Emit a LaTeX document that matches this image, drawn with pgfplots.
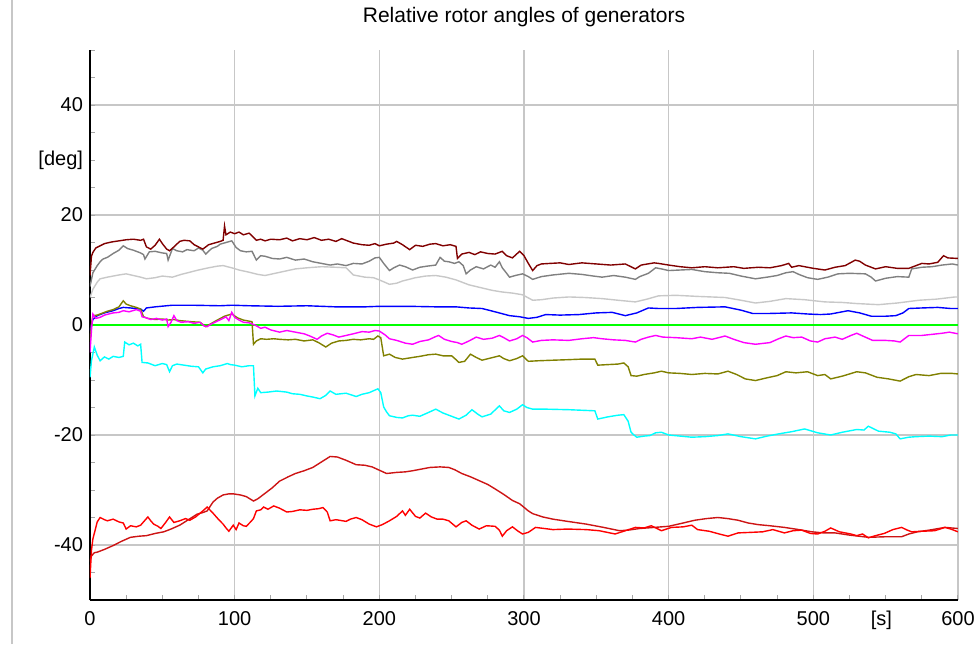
\documentclass[border=0pt]{standalone}
\usepackage{pgfplots}
\pgfplotsset{compat=1.18}
\usepackage{fontspec}
\setmainfont{Liberation Sans}
\definecolor{maroonc}{RGB}{128,0,0}
\definecolor{greyc}{RGB}{128,128,128}
\definecolor{lgreyc}{RGB}{200,200,200}
\definecolor{bluec}{RGB}{0,0,255}
\definecolor{greenc}{RGB}{0,255,0}
\definecolor{magc}{RGB}{255,0,255}
\definecolor{olivec}{RGB}{128,128,0}
\definecolor{cyanc}{RGB}{0,255,255}
\definecolor{redc}{RGB}{255,0,0}
\definecolor{dredc}{RGB}{205,20,20}
\begin{document}
\fontsize{10}{12}\selectfont
\begin{tikzpicture}
\useasboundingbox (0,0) rectangle (488pt,322pt);
\draw[black!22, line width=0.6pt] (6pt,0) -- (6pt,322pt);
\begin{axis}[
 at={(45pt,22pt)}, anchor=south west,
 scale only axis, width=434pt, height=275pt,
 xmin=0, xmax=600, ymin=-50, ymax=50,
 axis lines*=left, axis line style={-, black, line width=0.7pt},
 xtick={0,100,...,600}, ytick={-40,-20,...,40},
 xticklabels={0,100,200,300,400,500,600},
 yticklabels={-40,-20,0,20,40},
 minor xtick={0,25,...,600}, minor ytick={-50,-45,...,50},
 grid=major, major grid style={black!22, line width=0.6pt},
 major tick length=0pt, minor tick length=2.5pt,
 minor tick style={black!35, line width=0.5pt},
 tick align=inside,
 extra x ticks={547}, extra x tick labels={{[s]}},
 extra y ticks={30}, extra y tick labels={{[deg]}},
 extra tick style={grid=none, major tick length=0pt},
 title={Relative rotor angles of generators},
 title style={at={(0.5,1)}, anchor=base, yshift=8pt, font=\fontsize{10.5}{12}\selectfont},
 tick label style={font=\fontsize{10}{12}\selectfont},
 xticklabel style={yshift=-2pt},
 every axis plot/.append style={line width=0.7pt, mark=none},
]
% green reference
\addplot[greenc] coordinates {(1,0) (600,0)};
% light grey
\addplot[lgreyc] coordinates {(0,5) (2,6.5) (5,7.8) (7,8.4) (12,8.7) (16,8.9) (20,9.1) (25,9.3) (30,9.0) (35,8.7) (39,8.4) (45,8.6) (50,8.9) (57,8.7) (63,9.2) (69,9.6) (75,10.0) (82,10.4) (88,10.7) (92,10.8) (98,10.4) (103,10.0) (110,9.6) (116,9.2) (121,9.0) (128,9.4) (135,9.8) (142,10.2) (150,10.4) (160,10.6) (170,10.5) (177,10.4) (182,9.1) (190,8.7) (196,8.6) (200,8.2) (207,7.4) (212,7.6) (216,8.0) (225,8.6) (232,8.9) (239,9.0) (246,8.7) (253,8.2) (262,7.3) (270,6.8) (278,6.3) (285,6.0) (292,5.8) (299,5.5) (306,4.5) (312,4.6) (320,4.9) (331,5.1) (342,5.0) (354,4.8) (365,4.5) (377,4.2) (385,4.7) (393,5.3) (405,5.4) (420,5.2) (439,5.0) (450,4.5) (460,4.0) (470,4.3) (481,4.8) (494,4.6) (508,4.2) (520,4.1) (530,3.9) (545,3.7) (558,4.0) (573,4.5) (585,4.7) (598,5.1) (600,5.1)};
% grey
\addplot[greyc] coordinates {(0,7) (2,9.5) (5,10.8) (7,11.5) (9,12) (12,12.3) (16,13) (20,13.6) (23,14.4) (26,13.9) (30,13.6) (32,13.4) (35,13.1) (37,12.8) (38,12) (41,13.3) (45,13.4) (50,13.1) (53,13) (54,11.8) (57,13.9) (60,13.5) (64,13.3) (67,13.7) (72,13.5) (75,14) (78,13.6) (80,12.9) (84,13.9) (88,14.3) (90,14.7) (94,15) (98,15.3) (101,14.1) (104,13.5) (108,13.3) (112,13.4) (115,11.8) (118,12.6) (121,12.5) (126,12.1) (131,12) (136,12.3) (142,11.8) (148,12) (154,11.5) (160,11.2) (166,10.9) (171,11.1) (177,10.8) (182,11.2) (188,11.1) (193,11.6) (197,12.2) (200,12.3) (203,11.2) (207,9.9) (210,10.4) (214,10.9) (218,10.6) (223,10.0) (228,10.5) (233,10.7) (239,10.9) (242,12.3) (245,11.6) (248,11.5) (252,11.2) (255,11.5) (258,10.8) (260,9.3) (263,10.0) (267,10.6) (272,10.2) (277,10.9) (280,10.5) (283,11.5) (285,10.4) (288,9.4) (290,8.7) (294,9.0) (299,9.3) (303,8.8) (306,8.3) (312,8.8) (320,9.1) (331,9.4) (340,9.2) (348,8.9) (354,8.7) (362,9.0) (370,8.7) (377,8.3) (380,8.8) (386,9.4) (391,10.4) (395,10.2) (400,9.9) (408,10.0) (416,10.1) (425,9.7) (434,9.5) (442,9.4) (450,8.9) (460,8.4) (468,8.7) (475,9.0) (481,9.5) (486,9.7) (490,9.2) (496,8.6) (503,8.3) (510,8.7) (517,9.3) (525,9.4) (536,9.3) (540,8.7) (543,8.0) (550,8.5) (558,8.8) (566,8.7) (568,10.2) (575,10.5) (582,10.6) (589,10.9) (596,11.1) (600,10.9)};
% maroon
\addplot[maroonc] coordinates {(0,9) (1,12.5) (2,13.2) (4,14) (7,14.4) (10,14.8) (15,15.1) (20,15.3) (25,15.5) (30,15.6) (35,15.4) (37,15.6) (39,14.2) (42,13.8) (45,14.5) (48,15.6) (50,14.8) (53,13.8) (55,13.5) (58,14.2) (62,15.2) (65,15.4) (69,15.3) (72,14.6) (75,14.2) (78,13.8) (82,14.6) (86,14.9) (90,15.2) (92,15.4) (93,18) (94,16.4) (97,16.9) (100,16.6) (103,16.9) (106,16.4) (110,16.7) (112,16.2) (115,15.4) (118,15.6) (121,15.3) (125,15.6) (131,15.5) (136,15.8) (140,15.3) (145,15.7) (150,15.5) (155,15.9) (160,15.4) (165,15.6) (170,15.2) (174,15.7) (177,15.4) (182,14.9) (188,14.6) (193,14.5) (197,14.8) (200,14.4) (205,14.7) (210,14.9) (212,15.2) (216,14.6) (221,13.7) (225,14.5) (230,14.3) (235,14.7) (239,14.8) (244,14.4) (249,14.6) (253,14.3) (254,12.1) (257,12.9) (262,13.2) (266,12.8) (270,13.3) (275,13.0) (280,12.9) (285,13.4) (288,12.6) (292,12.2) (297,13.4) (300,12.6) (303,11.2) (306,9.9) (309,10.8) (312,11.1) (318,11.2) (325,11.3) (331,11.0) (340,11.3) (350,11.1) (360,10.9) (370,11.1) (377,10.2) (381,10.9) (390,11.3) (393,11.2) (400,10.9) (408,10.6) (416,10.4) (425,10.6) (434,10.4) (445,10.6) (452,10.3) (462,10.5) (470,10.4) (478,10.8) (483,11.2) (485,10.5) (490,10.8) (500,10.3) (508,10.0) (515,10.5) (522,10.8) (529,11.8) (532,11.6) (536,10.9) (543,10.2) (550,10.6) (558,10.3) (566,10.3) (570,10.7) (575,11.2) (580,11.1) (586,11.4) (590,12.6) (593,12.2) (600,12.1)};
% blue
\addplot[bluec] coordinates {(0,-1) (2,1.0) (5,1.7) (10,2.2) (16,2.6) (20,3.0) (23,3.2) (28,3.1) (35,2.9) (37,2.5) (39,3.1) (45,3.3) (57,3.6) (70,3.6) (90,3.5) (98,3.6) (110,3.5) (130,3.4) (150,3.5) (170,3.3) (190,3.3) (200,3.4) (220,3.4) (240,3.3) (253,3.3) (262,3.1) (271,3.0) (280,2.4) (290,1.7) (297,1.5) (303,1.2) (309,1.4) (315,1.9) (325,1.8) (338,1.9) (350,2.2) (361,2.3) (370,1.7) (378,2.2) (386,3.1) (393,3.0) (405,3.0) (420,3.2) (439,3.3) (450,2.7) (458,2.1) (470,2.1) (485,2.2) (496,2.0) (505,1.9) (512,2.0) (518,2.3) (524,2.6) (532,2.2) (540,1.6) (550,1.6) (557,1.7) (562,2.2) (566,3.0) (575,3.1) (586,3.2) (595,3.0) (600,3.0)};
% olive
\addplot[olivec] coordinates {(0,-3) (1,0) (2,1.7) (5,1.8) (7,2.0) (12,2.5) (16,2.8) (20,3.3) (23,4.4) (25,3.8) (28,3.5) (32,3.2) (35,2.9) (37,1.5) (40,1.2) (45,1.0) (50,1.1) (54,0.9) (58,1.0) (62,0.8) (66,0.7) (70,0.6) (76,0.5) (80,-0.3) (84,0.3) (88,0.9) (93,1.6) (98,2.0) (102,1.3) (106,0.9) (110,0.7) (112,0.6) (113,-3.5) (115,-2.9) (118,-2.5) (122,-2.6) (127,-2.5) (131,-2.6) (137,-2.7) (142,-2.6) (148,-2.9) (154,-2.7) (158,-3.2) (163,-4.0) (167,-3.3) (172,-2.9) (177,-2.8) (182,-2.6) (187,-2.7) (193,-2.5) (196,-2.6) (199,-2.0) (201,-2.3) (203,-5.6) (207,-5.3) (211,-5.9) (216,-6.2) (223,-5.9) (228,-5.7) (234,-5.4) (239,-5.3) (244,-5.6) (250,-5.6) (253,-6.3) (255,-6.8) (259,-6.6) (263,-5.3) (267,-5.9) (271,-6.4) (277,-6.0) (283,-5.6) (286,-6.1) (290,-6.5) (295,-6.1) (299,-5.6) (303,-6.6) (310,-6.5) (320,-6.4) (331,-6.3) (340,-6.2) (349,-6.2) (351,-7.3) (358,-7.2) (365,-7.1) (369,-6.9) (372,-7.6) (374,-9.2) (378,-9.3) (383,-9.0) (390,-8.7) (395,-8.4) (400,-8.7) (408,-8.8) (416,-9.0) (425,-8.8) (434,-8.9) (441,-8.4) (447,-9.0) (453,-9.8) (460,-10.1) (468,-9.6) (475,-9.2) (481,-8.5) (488,-8.7) (496,-8.5) (503,-9.2) (508,-9.0) (512,-9.8) (520,-9.3) (530,-8.5) (536,-8.7) (544,-9.5) (552,-9.8) (560,-10.2) (566,-9.4) (571,-9.0) (580,-9.2) (588,-8.8) (596,-8.8) (600,-8.9)};
% magenta
\addplot[magc] coordinates {(0,-5) (1,-1) (2,2.0) (4,1.2) (7,1.4) (10,1.8) (13,2.0) (16,2.2) (20,2.3) (23,2.6) (27,2.4) (32,2.8) (35,2.5) (36,1.5) (39,1.3) (42,1.0) (46,1.2) (50,0.9) (53,1.1) (54,-0.3) (56,0.5) (58,1.7) (60,0.8) (63,0.5) (68,0.6) (72,0.3) (76,0.5) (79,-0.2) (81,-0.3) (84,0.2) (88,0.7) (92,1.2) (94,1.5) (96,0.8) (98,2.3) (100,1.4) (103,0.9) (106,0.5) (110,0.4) (114,0.0) (118,-0.6) (121,-0.4) (125,-0.9) (131,-1.3) (136,-1.0) (142,-1.3) (148,-1.6) (152,-2.0) (157,-2.6) (160,-2.0) (164,-1.5) (168,-1.8) (172,-2.2) (177,-1.9) (182,-1.6) (188,-1.2) (193,-1.3) (197,-1.0) (200,-1.1) (204,-1.8) (207,-2.5) (212,-2.8) (218,-3.3) (223,-3.5) (228,-3.0) (234,-2.7) (239,-2.1) (241,-1.9) (245,-2.6) (250,-3.0) (254,-3.2) (257,-3.5) (262,-2.9) (267,-2.2) (272,-2.6) (278,-2.4) (283,-1.9) (286,-2.3) (290,-2.9) (295,-2.5) (299,-1.9) (302,-2.3) (306,-3.1) (312,-2.8) (320,-2.7) (331,-2.8) (340,-2.5) (348,-2.3) (354,-2.5) (362,-2.7) (370,-2.8) (377,-3.1) (381,-2.6) (386,-2.2) (391,-1.9) (396,-2.2) (405,-2.3) (416,-2.5) (422,-2.2) (430,-2.6) (439,-2.0) (445,-2.6) (452,-3.2) (460,-3.5) (470,-3.2) (476,-2.5) (481,-2.0) (486,-2.3) (492,-2.2) (498,-2.9) (503,-3.1) (508,-2.5) (515,-2.2) (520,-2.6) (526,-1.9) (530,-1.5) (535,-2.1) (541,-2.8) (550,-2.8) (556,-2.9) (560,-3.1) (566,-1.9) (575,-1.9) (582,-1.7) (589,-1.5) (594,-1.3) (600,-1.6)};
% cyan
\addplot[cyanc] coordinates {(0,-9.5) (1,-6.5) (3,-4.0) (5,-5.5) (7,-6.5) (10,-5.8) (13,-6.2) (16,-5.7) (20,-5.9) (23,-5.7) (24,-3.1) (27,-3.6) (30,-3.3) (33,-3.8) (35,-3.5) (36,-6.8) (40,-6.9) (45,-7.4) (50,-7.0) (53,-7.2) (55,-8.5) (57,-7.4) (60,-7.1) (65,-7.3) (70,-7.5) (75,-7.6) (78,-8.7) (80,-8.0) (85,-7.6) (90,-7.4) (95,-7.0) (97,-7.2) (100,-7.3) (105,-7.6) (110,-7.4) (113,-7.4) (114,-12.9) (116,-11.5) (118,-12.3) (123,-12.2) (129,-12.0) (136,-12.2) (140,-12.5) (145,-12.6) (150,-12.9) (154,-13.1) (159,-13.4) (163,-12.8) (166,-12.0) (170,-12.6) (177,-12.4) (184,-13.0) (188,-12.6) (193,-12.3) (199,-11.6) (201,-12.3) (203,-14.9) (205,-15.8) (207,-16.5) (212,-16.8) (216,-16.9) (220,-16.5) (223,-16.4) (228,-16.6) (234,-15.9) (239,-15.3) (244,-16.0) (250,-16.6) (255,-17.1) (260,-16.4) (264,-15.4) (268,-16.2) (271,-16.7) (277,-16.2) (283,-14.7) (286,-15.6) (290,-15.9) (295,-15.3) (299,-14.5) (302,-15.0) (306,-15.3) (315,-15.3) (331,-15.4) (340,-15.5) (349,-15.6) (351,-17.1) (358,-16.7) (365,-16.4) (369,-16.3) (372,-17.5) (374,-19.5) (376,-20.0) (378,-20.4) (383,-20.2) (387,-20.1) (391,-19.6) (395,-19.5) (400,-20.0) (408,-20.2) (416,-20.4) (425,-20.3) (434,-20.1) (441,-19.8) (450,-20.3) (460,-20.7) (468,-20.2) (476,-19.8) (485,-19.4) (494,-18.9) (503,-19.6) (512,-20.0) (520,-19.5) (530,-19.0) (535,-19.1) (538,-18.4) (545,-19.3) (553,-19.5) (557,-19.8) (560,-20.7) (566,-20.4) (571,-20.3) (580,-20.2) (589,-20.3) (595,-20.0) (600,-20.0)};
% smooth dark red
\addplot[dredc] coordinates {(0,-43) (1,-42) (3,-41.4) (5,-41.3) (10,-40.8) (16,-40.1) (22,-39.3) (28,-38.6) (34,-38.4) (39,-38.3) (45,-37.9) (51,-37.6) (56,-37.1) (62,-36.4) (68,-35.4) (74,-34.4) (78,-34.1) (81,-33.8) (85,-32.2) (88,-31.5) (92,-30.9) (96,-30.7) (99,-30.7) (104,-30.9) (108,-31.2) (113,-32.0) (116,-31.6) (120,-30.8) (126,-29.6) (131,-28.4) (137,-27.6) (142,-27.0) (148,-26.5) (154,-25.9) (160,-24.9) (166,-23.9) (171,-24.0) (177,-24.6) (184,-25.4) (190,-25.5) (195,-25.8) (200,-26.4) (205,-27.0) (212,-26.8) (218,-26.7) (223,-26.5) (229,-26.2) (235,-25.9) (242,-25.8) (248,-25.9) (252,-26.3) (257,-27.0) (263,-27.6) (269,-28.3) (275,-29.0) (280,-29.8) (286,-30.8) (292,-31.9) (297,-32.5) (303,-33.8) (306,-34.3) (313,-34.9) (320,-35.3) (330,-35.7) (343,-36.2) (355,-36.8) (366,-37.4) (372,-37.3) (380,-37.0) (390,-36.8) (400,-36.6) (410,-36.0) (418,-35.5) (426,-35.2) (434,-35.0) (441,-35.2) (448,-35.5) (455,-36.0) (462,-36.3) (470,-36.5) (480,-36.8) (490,-37.2) (499,-37.6) (507,-37.8) (515,-37.8) (525,-38.2) (538,-38.6) (550,-38.5) (561,-38.5) (566,-38.0) (572,-37.6) (580,-37.3) (591,-36.8) (600,-37.0)};
% noisy red
\addplot[redc] coordinates {(0,-46) (1,-41) (2,-38.9) (5,-35.8) (7,-35.0) (10,-35.4) (12,-35.6) (16,-35.3) (20,-35.8) (23,-36.0) (25,-37.1) (28,-36.5) (32,-36.7) (35,-36.4) (38,-35.5) (40,-34.9) (42,-35.6) (44,-36.2) (47,-36.6) (49,-37.0) (52,-36.0) (55,-34.9) (58,-35.9) (62,-35.6) (66,-35.2) (69,-35.5) (73,-34.9) (78,-33.8) (81,-33.1) (85,-34.2) (89,-35.4) (92,-36.2) (94,-36.9) (96,-37.5) (99,-36.4) (101,-37.2) (103,-36.0) (106,-36.5) (108,-36.6) (111,-35.8) (113,-35.2) (115,-33.8) (118,-33.6) (120,-33.1) (123,-33.5) (127,-32.9) (131,-33.3) (136,-34.0) (140,-33.9) (145,-33.6) (150,-33.7) (154,-33.5) (158,-33.4) (161,-33.2) (164,-34.0) (166,-35.6) (170,-35.4) (177,-35.7) (180,-35.3) (184,-35.0) (188,-35.4) (193,-36.2) (198,-36.7) (202,-36.3) (207,-35.6) (212,-34.8) (216,-33.8) (218,-34.6) (221,-33.5) (225,-34.8) (228,-35.1) (232,-34.2) (236,-34.9) (240,-35.3) (244,-35.3) (248,-35.6) (253,-36.7) (257,-35.9) (260,-35.6) (264,-36.4) (269,-37.1) (274,-36.5) (280,-36.6) (283,-37.3) (285,-38.4) (288,-37.4) (292,-36.7) (296,-37.5) (299,-38.0) (303,-37.7) (308,-36.8) (314,-37.0) (320,-37.2) (330,-37.1) (343,-37.2) (352,-37.4) (363,-38.0) (370,-37.4) (377,-36.8) (383,-36.9) (388,-36.5) (395,-37.4) (402,-36.8) (410,-36.7) (416,-36.4) (420,-37.2) (428,-37.5) (435,-38.0) (441,-38.4) (448,-37.8) (457,-37.7) (465,-37.6) (472,-37.2) (480,-37.8) (486,-37.4) (492,-37.3) (498,-37.9) (503,-38.0) (508,-37.5) (512,-36.9) (518,-37.6) (526,-38.0) (530,-38.3) (534,-38.0) (538,-38.7) (543,-38.3) (549,-37.9) (555,-37.2) (561,-36.8) (565,-37.3) (568,-37.6) (575,-37.5) (584,-37.4) (591,-36.8) (595,-37.1) (600,-37.6)};
\end{axis}
\end{tikzpicture}
\end{document}
